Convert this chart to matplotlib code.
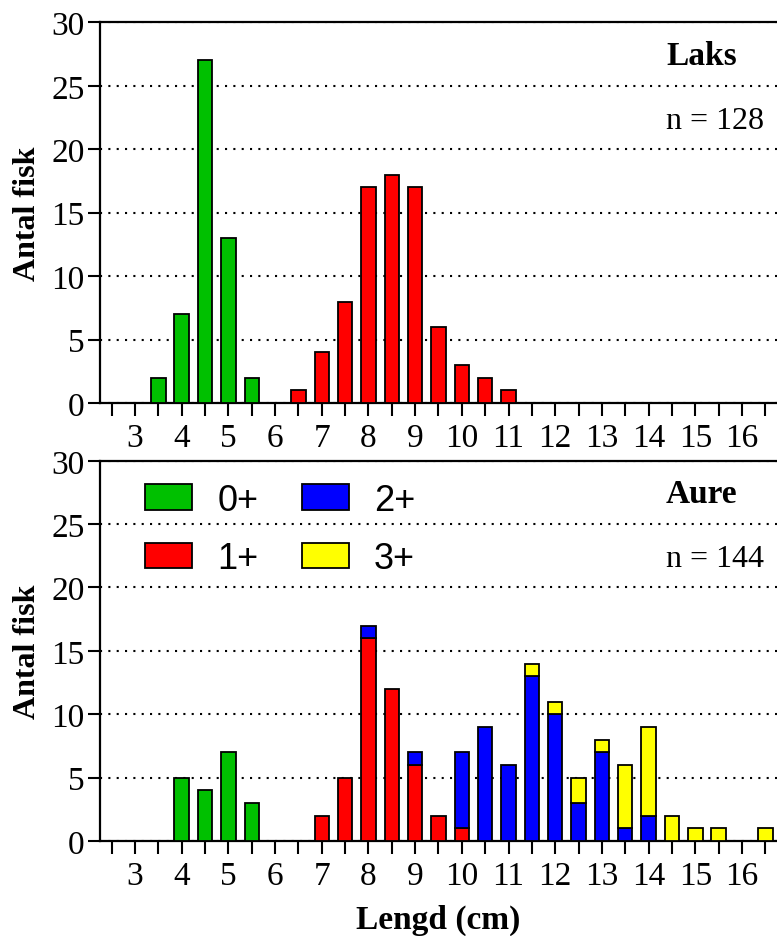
import matplotlib
matplotlib.use('Agg')
import matplotlib.pyplot as plt
from matplotlib.patches import Patch

# length classes (cm), one bar per half centimetre
lengths = [3.5, 4, 4.5, 5, 5.5, 6, 6.5, 7, 7.5, 8, 8.5, 9, 9.5, 10,
           10.5, 11, 11.5, 12, 12.5, 13, 13.5, 14, 14.5, 15, 15.5, 16, 16.5]

# Laks (salmon), n = 128
laks_0 = [2, 7, 27, 13, 2, 0, 0, 0, 0, 0, 0, 0, 0, 0,
          0, 0, 0, 0, 0, 0, 0, 0, 0, 0, 0, 0, 0]
laks_1 = [0, 0, 0, 0, 0, 0, 1, 4, 8, 17, 18, 17, 6, 3,
          2, 1, 0, 0, 0, 0, 0, 0, 0, 0, 0, 0, 0]

# Aure (trout), n = 144
aure_0 = [0, 5, 4, 7, 3, 0, 0, 0, 0, 0, 0, 0, 0, 0,
          0, 0, 0, 0, 0, 0, 0, 0, 0, 0, 0, 0, 0]
aure_1 = [0, 0, 0, 0, 0, 0, 0, 2, 5, 16, 12, 6, 2, 1,
          0, 0, 0, 0, 0, 0, 0, 0, 0, 0, 0, 0, 0]
aure_2 = [0, 0, 0, 0, 0, 0, 0, 0, 0, 1, 0, 1, 0, 6,
          9, 6, 13, 10, 3, 7, 1, 2, 0, 0, 0, 0, 0]
aure_3 = [0, 0, 0, 0, 0, 0, 0, 0, 0, 0, 0, 0, 0, 0,
          0, 0, 1, 1, 2, 1, 5, 7, 2, 1, 1, 0, 1]

age_labels = ['0+', '1+', '2+', '3+']
age_colors = ['#00c000', '#ff0000', '#0000ff', '#ffff00']

xticks = [2.5, 3, 3.5, 4, 4.5, 5, 5.5, 6, 6.5, 7, 7.5, 8, 8.5, 9, 9.5, 10,
          10.5, 11, 11.5, 12, 12.5, 13, 13.5, 14, 14.5, 15, 15.5, 16, 16.5]

plt.rcParams['font.family'] = ['Liberation Serif', 'DejaVu Serif']

fig = plt.figure(figsize=(7.77, 9.37), dpi=100)
ax1 = fig.add_axes([0.1287, 0.5688, 0.8713, 0.4063])
ax2 = fig.add_axes([0.1287, 0.1014, 0.8713, 0.4058])


def stacked(ax, series):
    base = [0] * len(lengths)
    for vals, col in zip(series, age_colors):
        xs = [x for x, v in zip(lengths, vals) if v > 0]
        hs = [v for v in vals if v > 0]
        bs = [b for b, v in zip(base, vals) if v > 0]
        if xs:
            ax.bar(xs, hs, bottom=bs, width=0.31, color=col,
                   edgecolor='black', linewidth=1.3, zorder=3)
        base = [b + v for b, v in zip(base, vals)]


def style(ax, name, n):
    ax.set_xlim(2.25, 16.75)
    ax.set_ylim(0, 30)
    ax.set_yticks([0, 5, 10, 15, 20, 25, 30])
    ax.set_xticks(xticks)
    ax.set_xticklabels([str(int(t)) if t == int(t) else '' for t in xticks])
    ax.tick_params(axis='both', labelsize=24, width=1.5, length=9,
                   direction='out')
    ax.tick_params(axis='x', pad=5)
    ax.tick_params(axis='y', pad=2)
    for s in ['left', 'bottom', 'top']:
        ax.spines[s].set_linewidth(1.6)
    ax.spines['right'].set_visible(False)
    ax.yaxis.grid(True, linestyle=(0, (1, 3)), color='black', linewidth=1.5)
    ax.set_axisbelow(True)
    ax.set_ylabel('Antal fisk', fontsize=23, fontweight='bold', labelpad=7)
    ax.text(0.836, 0.913, name, transform=ax.transAxes, fontsize=24,
            fontweight='bold', ha='left', va='center')
    ax.text(0.836, 0.742, 'n = ' + str(n), transform=ax.transAxes,
            fontsize=23, ha='left', va='center')


stacked(ax1, [laks_0, laks_1])
style(ax1, 'Laks', 128)

stacked(ax2, [aure_0, aure_1, aure_2, aure_3])
style(ax2, 'Aure', 144)
ax2.set_xlabel('Lengd (cm)', fontsize=24, fontweight='bold', labelpad=9)

handles = [Patch(facecolor=c, edgecolor='black', linewidth=1.3)
           for c in age_colors]
ax2.legend(handles, age_labels, ncol=2, loc='upper left',
           bbox_to_anchor=(0.040, 0.99), frameon=False, borderpad=0,
           prop={'family': 'Liberation Sans', 'size': 26},
           handlelength=1.3, handleheight=0.7, handletextpad=0.7,
           columnspacing=1.2, labelspacing=0.65)

fig.savefig('out.png', dpi=100)
